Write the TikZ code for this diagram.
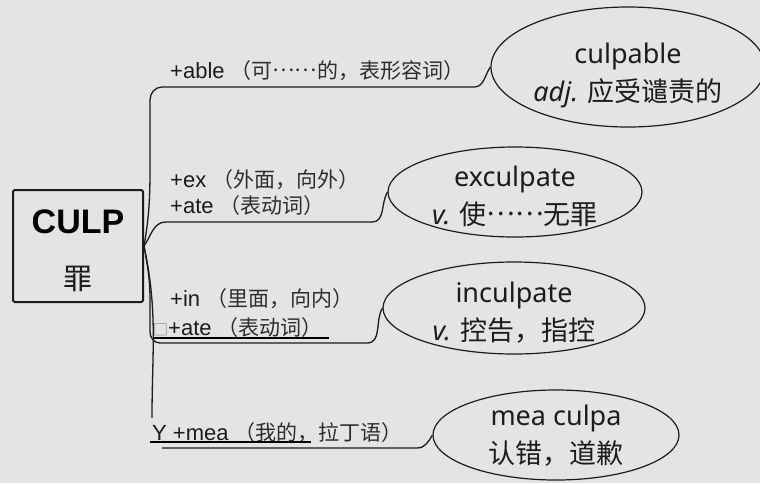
\documentclass[tikz,border=0pt]{standalone}
\usepackage{fontspec}
\setmainfont{Liberation Sans}
\newfontfamily\cjk{Noto Sans CJK SC}
\newfontfamily\leaffont{Noto Sans}
\usepackage{tikz}
\usetikzlibrary{shapes.geometric,positioning}

\definecolor{bg}{RGB}{228,228,228}
\definecolor{ink}{RGB}{28,28,28}
\definecolor{soft}{RGB}{45,45,45}
\newcommand{\zh}[1]{{\cjk\color{soft}\fontsize{21}{24}\selectfont #1}}
\newcommand{\middots}{\raisebox{0.32em}{……}}

\begin{document}
\begin{tikzpicture}[x=1pt, y=-1pt,
  root/.style={draw=ink, line width=2pt, rounded corners=2pt,
               minimum width=130pt, minimum height=112pt, inner sep=0pt},
  leaf/.style={ellipse, draw=ink, line width=1.2pt, inner sep=0pt},
  word/.style={align=center, inner sep=0pt, text=ink,
               font=\leaffont\fontsize{27}{38}\selectfont},
  lbl/.style={anchor=base west, inner sep=0pt, text=ink, font=\fontsize{22}{26}\selectfont},
  branch/.style={draw=ink, line width=1.3pt},
  uline/.style={draw=black, line width=1.2pt},
]
\fill[bg] (0,0) rectangle (760,483);
\useasboundingbox (0,0) rectangle (760,483);

% root word
\node[root] (root) at (78,246) {};
\node[font=\bfseries\fontsize{34}{40}\selectfont, text=black] (culp) at (78,222) {CULP};
\node[font=\cjk\fontsize{29}{32}\selectfont, text=ink] (zui) at (78,279) {罪};

% derived words
\node[leaf, minimum width=274pt, minimum height=120pt] (e1) at (628,67) {};
\node[leaf, minimum width=254pt, minimum height=90pt] (e2) at (515,192) {};
\node[leaf, minimum width=262pt, minimum height=92pt] (e3) at (514,308) {};
\node[leaf, minimum width=246pt, minimum height=90pt] (e4) at (556,435) {};

\node[word] (w1) at ([yshift=-8pt]e1.center) {culpable\\{\itshape adj.} {\cjk 应受谴责的}};
\node[word] (w2) at ([yshift=-4pt]e2.center) {exculpate\\{\itshape v.} {\cjk 使\middots 无罪}};
\node[word] (w3) at ([yshift=-5pt]e3.center) {inculpate\\{\itshape v.} {\cjk 控告，指控}};
\node[word] (w4) at ([yshift=-1pt]e4.center) {mea culpa\\{\cjk 认错，道歉}};

% branch labels
\node[lbl] (l1)  at (170,78)  {+able \zh{（可\middots 的，表形容词）}};
\node[lbl] (l2a) at (170,187) {+ex \zh{（外面，向外）}};
\node[lbl] (l2b) at (170,213) {+ate \zh{（表动词）}};
\node[lbl] (l3a) at (170,306) {+in \zh{（里面，向内）}};
\node[lbl] (l3b) at (153,335) {{\cjk\color{gray}\fontsize{15}{20}\selectfont □}+ate \zh{（表动词）}};
\node[lbl] (l4)  at (152,440) {Y +mea \zh{（我的，拉丁语）}};

% branches
\draw[branch] (root.east) to[out=80,in=-90] (150,150) -- (150,100)
  to[out=90,in=180] (162,87) -- (474,87) to[out=0,in=-125] (e1.west);
\draw[branch] (root.east) to[out=55,in=180] (166,222) -- (372,222)
  to[out=0,in=-120] (e2.west);
\draw[branch] (root.east) to[out=-80,in=90] (150,300) -- (150,332)
  to[out=-90,in=180] (160,343) -- (367,343) to[out=0,in=-120] (e3.west);
\coordinate (stub) at (152,418);
\draw[branch] (root.east) to[out=-78,in=90] (stub);
\coordinate (b4) at (162,448);
\draw[branch] (b4) -- (417,448) to[out=0,in=-120] (e4.west);

% underlines
\draw[uline] ([yshift=-3pt]l3b.base west) -- +(176,0);
\draw[uline] ([xshift=-2pt,yshift=-2pt]l4.base west) -- +(161,0);
\end{tikzpicture}
\end{document}
